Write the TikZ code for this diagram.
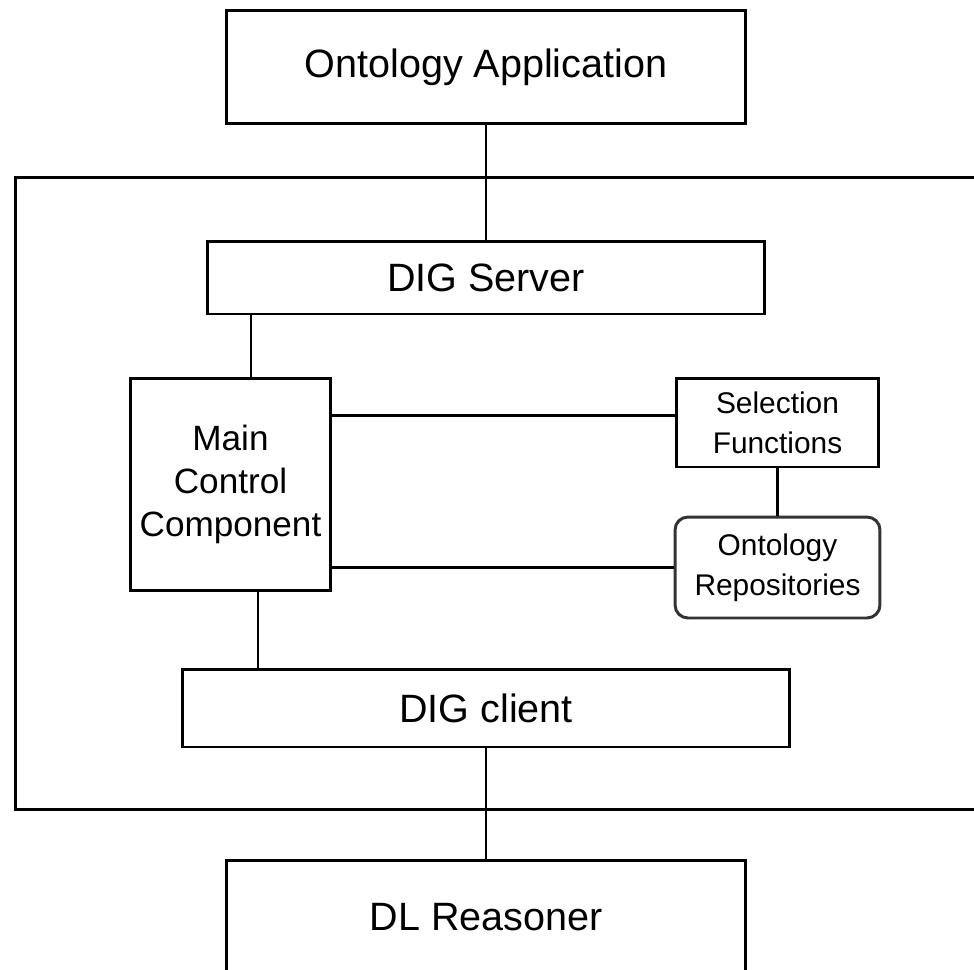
\documentclass[tikz,border=0pt]{standalone}
\usepackage{fontspec}
\setmainfont{Liberation Sans}
\usetikzlibrary{positioning}
\tikzset{
  comp/.style={rectangle, draw=black, line width=1.7pt, fill=white, align=center,
               inner sep=0pt, font=\fontsize{22.5}{24.5}\selectfont},
  subcomp/.style={comp, font=\fontsize{17}{22.8}\selectfont},
  store/.style={subcomp, rounded corners=0.26cm, draw=black!80},
  sysframe/.style={rectangle, draw=black, line width=1.7pt},
  link/.style={line width=1.7pt, draw=black},
}

\begin{document}
\begin{tikzpicture}[x=0.02cm, y=-0.02cm]
    \useasboundingbox (0,0) rectangle (974,970);
    \node[sysframe, minimum width=19.5cm, minimum height=12.66cm] (sys) at (502.5,493.5) {};
    \node[comp, minimum width=10.4cm, minimum height=2.28cm] (app) at (486,67) {Ontology Application};
    \node[comp, minimum width=11.14cm, minimum height=1.46cm] (server) at (486,277.5) {DIG Server};
    \node[comp, minimum width=4.02cm, minimum height=4.26cm, font=\fontsize{20}{24.5}\selectfont] (main) at (230.5,484.5) {Main\\Control\\Component};
    \node[subcomp, minimum width=4.06cm, minimum height=1.78cm] (sel) at (777.5,422.5) {Selection\\Functions};
    \node[store, minimum width=4.1cm, minimum height=2.02cm] (repo) at (777.5,567.5) {Ontology\\Repositories};
    \node[comp, minimum width=12.14cm, minimum height=1.56cm] (client) at (486,708) {DIG client};
    \node[comp, minimum width=10.4cm, minimum height=2.28cm] (reasoner) at (486,917) {DL Reasoner};
    \draw[link] (app) -- (server);
    \draw[link] ([xshift=0.41cm]main.north) -- ([xshift=0.41cm]main.north |- server.south);
    \draw[link] ([yshift=1.39cm]main.east) -- ([yshift=1.39cm]main.east -| sel.west);
    \draw[link] (repo.west -| main.east) -- (repo.west);
    \draw[link] (sel) -- (repo);
    \draw[link] ([xshift=0.55cm]main.south) -- ([xshift=0.55cm]main.south |- client.north);
    \draw[link] (client) -- (reasoner);
  \end{tikzpicture}
\end{document}
